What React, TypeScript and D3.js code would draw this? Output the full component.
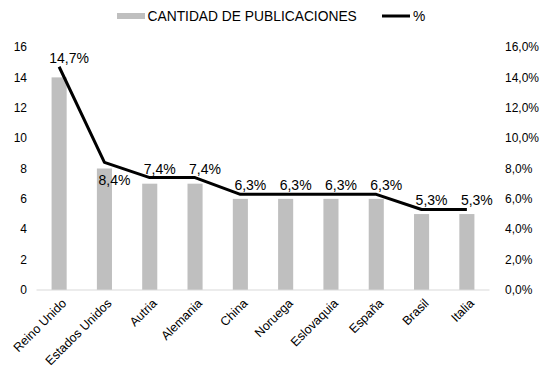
import React from "react";
import * as d3 from "d3";

const categories = ["Reino Unido", "Estados Unidos", "Autria", "Alemania", "China", "Noruega", "Eslovaquia", "España", "Brasil", "Italia"];
const publicaciones = [14, 8, 7, 7, 6, 6, 6, 6, 5, 5];
const porcentaje = [14.7, 8.4, 7.4, 7.4, 6.3, 6.3, 6.3, 6.3, 5.3, 5.3];
const leftTicks = [0, 2, 4, 6, 8, 10, 12, 14, 16];
const rightTicks = [0, 2, 4, 6, 8, 10, 12, 14, 16];
const legendLabels = ["CANTIDAD DE PUBLICACIONES", "%"];

const W = 544;
const H = 377;
const FONT = "'Liberation Sans', Arial, sans-serif";

export default function App() {
  const x = d3.scaleBand<string>().domain(categories).range([36.5, 489.5]).paddingInner(0.667).paddingOuter(0.333);
  const yL = d3.scaleLinear().domain([0, 16]).range([290, 47]);
  const yR = d3.scaleLinear().domain([0, 16]).range([290, 47]);
  const cx = (c: string) => (x(c) as number) + x.bandwidth() / 2;
  const line = d3
    .line<number>()
    .x((_, i) => cx(categories[i]))
    .y((d) => yR(d));
  const fmt = (v: number) => v.toFixed(1).replace(".", ",") + "%";

  return (
    <svg width={W} height={H} style={{ position: "absolute", left: 0, top: 0, background: "#fff" }} fontFamily={FONT}>
      <rect x={0} y={0} width={W} height={H} fill="#fff" />
      {publicaciones.map((v, i) => (
        <rect key={i} x={x(categories[i])} y={yL(v)} width={x.bandwidth()} height={yL(0) - yL(v)} fill="#bfbfbf" />
      ))}
      <line x1={36.5} x2={489.5} y1={yL(0)} y2={yL(0)} stroke="#d9d9d9" strokeWidth={1} />
      {leftTicks.map((t) => (
        <text key={t} x={27} y={yL(t)} dy="0.35em" textAnchor="end" fontSize={12} fill="#000">
          {t}
        </text>
      ))}
      {rightTicks.map((t) => (
        <text key={t} x={505} y={yR(t)} dy="0.35em" textAnchor="start" fontSize={12} fill="#000">
          {t.toFixed(1).replace(".", ",") + "%"}
        </text>
      ))}
      {categories.map((c) => (
        <text key={c} transform={`translate(${cx(c) + 8},${yL(0) + 14}) rotate(-45)`} textAnchor="end" fontSize={12.5} fill="#000">
          {c}
        </text>
      ))}
      <path d={line(porcentaje) as string} fill="none" stroke="#000" strokeWidth={3} strokeLinejoin="round" />
      {porcentaje.map((v, i) => {
        const below = i === 1;
        return (
          <text
            key={i}
            x={cx(categories[i]) + 10}
            y={yR(v) + (below ? 18 : -9)}
            dy="0.35em"
            textAnchor="middle"
            fontSize={14}
            fill="#000"
          >
            {fmt(v)}
          </text>
        );
      })}
      <rect x={117} y={13} width={28} height={6} fill="#bfbfbf" />
      <text x={147.5} y={16} dy="0.35em" fontSize={13.8} fill="#000">
        {legendLabels[0]}
      </text>
      <line x1={382} x2={410} y1={16} y2={16} stroke="#000" strokeWidth={3} />
      <text x={413} y={16} dy="0.35em" fontSize={13.8} fill="#000">
        {legendLabels[1]}
      </text>
    </svg>
  );
}
